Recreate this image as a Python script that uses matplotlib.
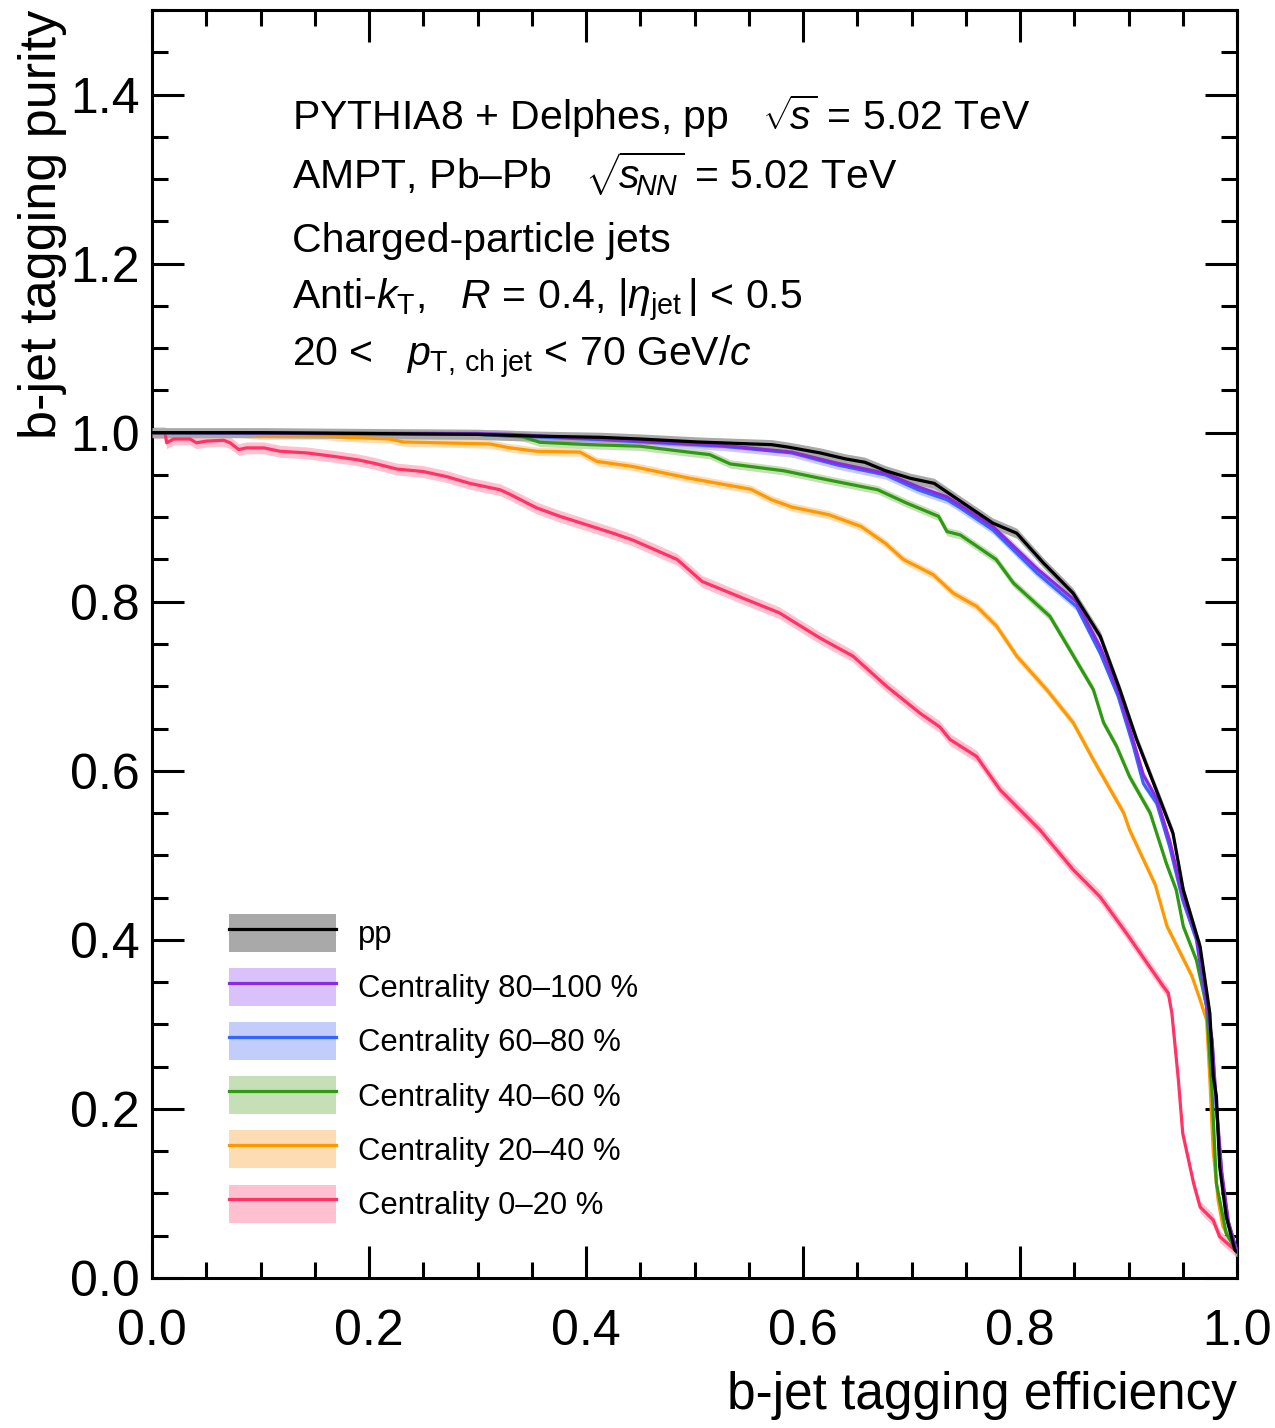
import matplotlib
matplotlib.use("Agg")
import matplotlib.pyplot as plt
from matplotlib.patches import Patch
from matplotlib.lines import Line2D
from matplotlib.ticker import MultipleLocator

plt.rcParams["font.family"] = ["Liberation Sans", "DejaVu Sans"]
plt.rcParams["mathtext.fontset"] = "custom"
plt.rcParams["mathtext.rm"] = "Liberation Sans"
plt.rcParams["mathtext.it"] = "Liberation Sans:italic"
plt.rcParams["mathtext.bf"] = "Liberation Sans:bold"

# ---- b-jet tagging purity vs efficiency curves ----
pp_x = [0.0, 0.10, 0.20, 0.30, 0.35, 0.413, 0.45, 0.503, 0.571, 0.586, 0.616, 0.639,
        0.657, 0.676, 0.699, 0.721, 0.745, 0.775, 0.797, 0.8215, 0.849, 0.874, 0.892,
        0.9075, 0.929, 0.941, 0.9505, 0.966, 0.975, 0.978, 0.981, 0.984, 0.990, 0.998,
        1.0]
pp_y = [1.0, 1.0, 0.999, 0.998, 0.996, 0.9945, 0.9925, 0.989, 0.9858, 0.983, 0.976,
        0.969, 0.965, 0.955, 0.946, 0.940, 0.919, 0.893, 0.881, 0.846, 0.810, 0.759,
        0.696, 0.637, 0.566, 0.526, 0.459, 0.392, 0.313, 0.240, 0.215, 0.132, 0.073,
        0.033, 0.031]

c80_x = [0.0, 0.30, 0.33, 0.413, 0.5257, 0.5897, 0.631, 0.676, 0.706, 0.7327, 0.745,
         0.775, 0.8157, 0.852, 0.874, 0.8905, 0.9045, 0.9137, 0.926, 0.938, 0.950,
         0.9626, 0.9708, 0.977, 0.981, 0.986, 0.992, 1.0]
c80_y = [1.0, 0.999, 0.998, 0.9925, 0.985, 0.977, 0.964, 0.952, 0.936, 0.924, 0.914,
         0.889, 0.839, 0.800, 0.746, 0.694, 0.635, 0.595, 0.567, 0.517, 0.452, 0.404,
         0.336, 0.282, 0.205, 0.125, 0.067, 0.031]

c60_x = [0.0, 0.30, 0.413, 0.5257, 0.5897, 0.631, 0.676, 0.706, 0.7327, 0.745, 0.775,
         0.8157, 0.852, 0.874, 0.8905, 0.9045, 0.9137, 0.926, 0.938, 0.950, 0.9626,
         0.9708, 0.977, 0.981, 0.986, 0.992, 1.0]
c60_y = [1.0, 0.998, 0.9918, 0.984, 0.976, 0.962, 0.950, 0.9325, 0.9207, 0.911, 0.885,
         0.834, 0.7945, 0.739, 0.688, 0.629, 0.585, 0.5617, 0.510, 0.447, 0.400, 0.330,
         0.280, 0.200, 0.120, 0.065, 0.031]

c40_x = [0.0, 0.30, 0.342, 0.3576, 0.4037, 0.4498, 0.488, 0.514, 0.533, 0.582, 0.6236,
         0.6688, 0.695, 0.725, 0.7327, 0.745, 0.778, 0.794, 0.8276, 0.846, 0.8676, 0.877,
         0.889, 0.901, 0.920, 0.935, 0.944, 0.9505, 0.9626, 0.972, 0.977, 0.981, 0.990,
         1.0]
c40_y = [1.0, 0.998, 0.995, 0.9886, 0.9858, 0.984, 0.978, 0.974, 0.963, 0.955, 0.944,
         0.9325, 0.917, 0.901, 0.883, 0.879, 0.850, 0.822, 0.7826, 0.743, 0.696, 0.657,
         0.629, 0.593, 0.550, 0.490, 0.459, 0.416, 0.376, 0.321, 0.220, 0.112, 0.053,
         0.031]

c20_x = [0.0, 0.075, 0.0995, 0.158, 0.173, 0.219, 0.2316, 0.3115, 0.330, 0.3545, 0.3945,
         0.41, 0.443, 0.4957, 0.552, 0.571, 0.5897, 0.6236, 0.6536, 0.676, 0.6925, 0.720,
         0.7386, 0.760, 0.7785, 0.797, 0.8246, 0.849, 0.8676, 0.8956, 0.901, 0.9247,
         0.9355, 0.9585, 0.966, 0.972, 0.975, 0.978, 0.9826, 0.987, 1.0]
c20_y = [1.0, 1.0, 0.997, 0.997, 0.995, 0.9925, 0.989, 0.9866, 0.982, 0.978, 0.977, 0.966,
         0.960, 0.946, 0.933, 0.9207, 0.912, 0.903, 0.889, 0.869, 0.850, 0.832, 0.810,
         0.7945, 0.771, 0.7357, 0.696, 0.657, 0.613, 0.550, 0.530, 0.465, 0.416, 0.357,
         0.329, 0.305, 0.234, 0.151, 0.092, 0.061, 0.031]

c0_x = [0.0, 0.012, 0.0135, 0.020, 0.035, 0.041, 0.050, 0.066, 0.072, 0.080, 0.087, 0.103,
        0.118, 0.143, 0.167, 0.189, 0.204, 0.2255, 0.250, 0.2716, 0.293, 0.3207, 0.330,
        0.3545, 0.376, 0.4006, 0.425, 0.443, 0.484, 0.507, 0.545, 0.578, 0.6157, 0.646,
        0.677, 0.708, 0.726, 0.7355, 0.760, 0.7816, 0.8184, 0.849, 0.8645, 0.8737, 0.898,
        0.932, 0.9367, 0.940, 0.946, 0.950, 0.960, 0.966, 0.978, 0.984, 1.0]
c0_y = [1.0, 1.0, 0.988, 0.9925, 0.9925, 0.988, 0.990, 0.991, 0.988, 0.980, 0.982, 0.982,
        0.978, 0.976, 0.972, 0.968, 0.964, 0.957, 0.954, 0.948, 0.940, 0.9325, 0.927,
        0.911, 0.901, 0.891, 0.881, 0.873, 0.850, 0.824, 0.804, 0.787, 0.757, 0.7357,
        0.700, 0.668, 0.652, 0.637, 0.617, 0.5775, 0.530, 0.483, 0.463, 0.451, 0.408,
        0.345, 0.337, 0.313, 0.234, 0.171, 0.112, 0.084, 0.0686, 0.049, 0.031]

labels = ["pp", "Centrality 80\u2013100 %", "Centrality 60\u201380 %",
          "Centrality 40\u201360 %", "Centrality 20\u201340 %", "Centrality 0\u201320 %"]
line_colors = ["#000000", "#8a2be2", "#3366ff", "#2e9a12", "#ff9900", "#ff3366"]
band_colors = ["#a9a9a9", "#d9c2fa", "#c2cdfb", "#c6dfb6", "#fddcb3", "#ffc0cf"]
band_halfwidth = [0.006, 0.005, 0.005, 0.005, 0.005, 0.007]

series = [(pp_x, pp_y), (c80_x, c80_y), (c60_x, c60_y),
          (c40_x, c40_y), (c20_x, c20_y), (c0_x, c0_y)]

fig = plt.figure(figsize=(12.75, 14.28), dpi=100)
ax = fig.add_axes([152 / 1275, 1 - 1278 / 1428, 1085 / 1275, 1268 / 1428])

# draw most central first so the pp curve ends up on top
order = [5, 4, 3, 1, 2, 0]
for i in order:
    xs, ys = series[i]
    hw = band_halfwidth[i]
    ax.fill_between(xs, [v - hw for v in ys], [v + hw for v in ys],
                    color=band_colors[i], lw=0, zorder=2 + 0.1 * (6 - i))
for i in order:
    xs, ys = series[i]
    ax.plot(xs, ys, color=line_colors[i], lw=2.3, zorder=3 + 0.1 * (6 - i),
            solid_joinstyle="round")

ax.set_xlim(0, 1.0)
ax.set_ylim(0, 1.5)

ax.xaxis.set_minor_locator(MultipleLocator(0.05))
ax.yaxis.set_minor_locator(MultipleLocator(0.05))
ax.set_yticks([0.0, 0.2, 0.4, 0.6, 0.8, 1.0, 1.2, 1.4])
ax.set_yticklabels(["0.0", "0.2", "0.4", "0.6", "0.8", "1.0", "1.2", "1.4"])
ax.set_xticks([0.0, 0.2, 0.4, 0.6, 0.8, 1.0])
ax.set_xticklabels(["0.0", "0.2", "0.4", "0.6", "0.8", "1.0"])

ax.tick_params(which="both", direction="in", top=True, right=True, width=2.2,
               labelsize=36, colors="black")
ax.tick_params(which="major", length=23)
ax.tick_params(which="minor", length=11.5)
ax.tick_params(axis="x", which="major", pad=22)
ax.tick_params(axis="y", which="major", pad=9)
for sp in ax.spines.values():
    sp.set_linewidth(2.2)

ax.set_xlabel("b-jet tagging efficiency", fontsize=37, loc="right", labelpad=12)
ax.set_ylabel("b-jet tagging purity", fontsize=37.5, loc="top", labelpad=2)

# descriptive text block
tx = 0.129
txt_kw = dict(fontsize=29.5, ha="left", va="baseline", transform=ax.transData)
ax.text(tx, 1.3586, r"PYTHIA8 + Delphes, pp   $\sqrt{\!s}$ = 5.02 TeV", **txt_kw)
ax.text(tx, 1.2876, "AMPT, Pb\u2013Pb   " + r"$\sqrt{\!s_{\!NN}}$ = 5.02 TeV", **txt_kw)
ax.text(tx, 1.2142, "Charged-particle jets", **txt_kw)
ax.text(tx, 1.1456, r"Anti-$k_{\mathrm{T}}$,   $R$ = 0.4, $|\eta_{\mathrm{jet}}\,|$ < 0.5", **txt_kw)
ax.text(tx, 1.0781, r"20 <   $p_{\mathrm{T,\,ch\;jet}}$ < 70 GeV/$c$", **txt_kw)

handles = [(Patch(facecolor=band_colors[i], edgecolor="none"),
            Line2D([], [], color=line_colors[i], lw=2.3)) for i in range(6)]
ax.legend(handles, labels, loc="upper left", bbox_to_anchor=(0.071, 0.287),
          frameon=False, fontsize=22.3, borderpad=0, borderaxespad=0,
          handlelength=3.45, handleheight=1.51, labelspacing=0.52, handletextpad=0.72)

fig.savefig("out.png", dpi=100)
